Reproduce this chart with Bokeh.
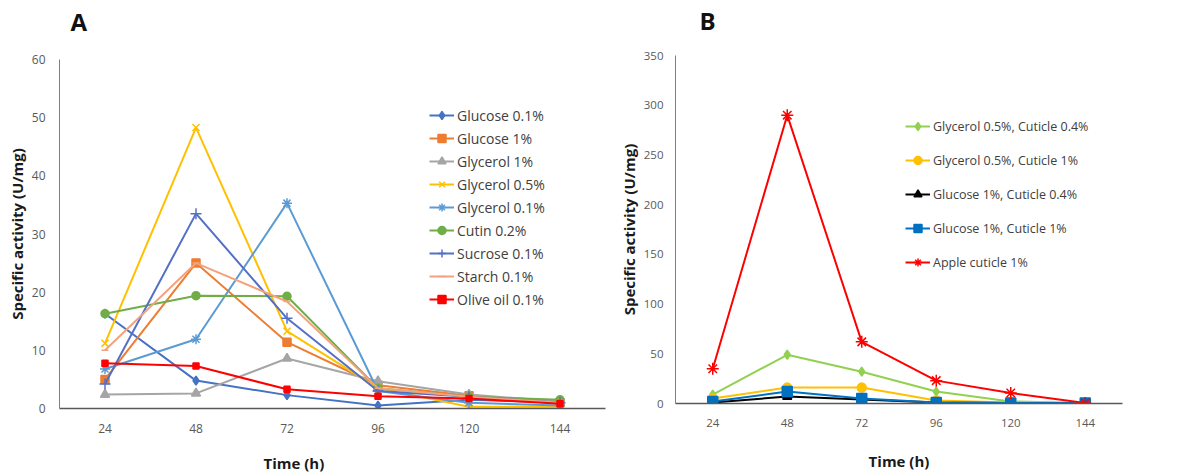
from bokeh.plotting import figure
from bokeh.layouts import row, column
from bokeh.models import Range1d, FixedTicker, Legend, LegendItem, Title
from bokeh.embed import file_html
from bokeh.resources import INLINE

# ---------------- data ----------------
time_h = [24, 48, 72, 96, 120, 144]

# Panel A
glucose_01 = [16.3, 4.8, 2.3, 0.5, 1.5, 1.0]
glucose_1 = [5.0, 25.0, 11.4, 4.0, 2.2, 1.0]
glycerol_1 = [2.4, 2.6, 8.6, 4.7, 2.4, 1.2]
glycerol_05 = [11.2, 48.3, 13.3, 3.5, 0.3, 0.3]
glycerol_01 = [6.8, 11.9, 35.3, 3.0, 1.0, 0.5]
cutin_02 = [16.3, 19.4, 19.3, 3.5, 2.0, 1.5]
sucrose_01 = [4.2, 33.5, 15.5, 3.0, 2.0, 1.0]
starch_01 = [10.0, 25.0, 18.4, 3.5, 2.0, 1.0]
olive_oil_01 = [7.8, 7.3, 3.3, 2.1, 1.7, 0.8]

# Panel B
glyc05_cut04 = [9, 49, 32, 12, 2, 0.5]
glyc05_cut1 = [5, 16, 16, 3, 1, 0.5]
gluc1_cut04 = [1, 7, 4, 1, 0.5, 0.3]
gluc1_cut1 = [2, 12, 5, 1, 0.5, 0.5]
apple_cut1 = [35, 290, 62, 23, 10.5, 0.5]

series_a = [
    ("Glucose 0.1%", glucose_01, "#4472C4", "diamond", 9),
    ("Glucose 1%", glucose_1, "#ED7D31", "square", 8),
    ("Glycerol 1%", glycerol_1, "#A5A5A5", "triangle", 9),
    ("Glycerol 0.5%", glycerol_05, "#FFC000", "x", 10),
    ("Glycerol 0.1%", glycerol_01, "#5B9BD5", "asterisk", 10),
    ("Cutin 0.2%", cutin_02, "#70AD47", "circle", 8),
    ("Sucrose 0.1%", sucrose_01, "#5470C6", "cross", 11),
    ("Starch 0.1%", starch_01, "#F4A27E", "dash", 7),
    ("Olive oil 0.1%", olive_oil_01, "#FF0000", "square", 6),
]
series_b = [
    ("Glycerol 0.5%, Cuticle 0.4%", glyc05_cut04, "#92D050", "diamond", 9),
    ("Glycerol 0.5%, Cuticle 1%", glyc05_cut1, "#FFC000", "circle", 9),
    ("Glucose 1%, Cuticle 0.4%", gluc1_cut04, "#000000", "triangle", 9),
    ("Glucose 1%, Cuticle 1%", gluc1_cut1, "#0070C0", "square", 10),
    ("Apple cuticle 1%", apple_cut1, "#FF0000", "asterisk", 12),
]

FONT = "Open Sans"
TICK_COLOR = "#595959"


def spacer(px):
    return Title(text=" ", text_font=FONT, text_font_size=px, standoff=0)


def make_panel(width, left, right, top, bottom, ymax, ystep, series,
               letter, letter_off, letter_gap, time_align, time_off,
               time_gap, leg_loc, leg_spacing, leg_font, tick_font, ystand):
    p = figure(width=width, height=475, output_backend="svg",
               toolbar_location=None,
               x_range=Range1d(12, 156), y_range=Range1d(0, ymax),
               min_border_left=left, min_border_right=right,
               min_border_top=top, min_border_bottom=bottom)
    p.outline_line_color = None
    p.grid.visible = False
    p.background_fill_color = "white"
    p.border_fill_color = "white"

    p.xaxis.ticker = FixedTicker(ticks=time_h)
    p.yaxis.ticker = FixedTicker(ticks=list(range(0, ymax + 1, ystep)))
    for ax in (p.xaxis, p.yaxis):
        ax.major_tick_line_color = None
        ax.minor_tick_line_color = None
        ax.major_tick_out = 0
        ax.major_tick_in = 0
        ax.minor_tick_out = 0
        ax.minor_tick_in = 0
        ax.major_label_text_font = FONT
        ax.major_label_text_font_size = tick_font
        ax.major_label_text_color = TICK_COLOR
    p.xaxis.axis_line_color = "#595959"
    p.xaxis.axis_line_width = 1.5
    p.yaxis.axis_line_color = "#7f7f7f"
    p.xaxis.major_label_standoff = 15
    p.yaxis.major_label_standoff = ystand

    p.yaxis.axis_label = "Specific activity (U/mg)"
    p.yaxis.axis_label_text_font = FONT
    p.yaxis.axis_label_text_font_style = "bold"
    p.yaxis.axis_label_text_font_size = "15px"
    p.yaxis.axis_label_text_color = "#1a1a1a"
    p.yaxis.axis_label_standoff = 2

    items = []
    for name, vals, color, marker, size in series:
        l = p.line(time_h, vals, line_color=color, line_width=2)
        s = p.scatter(time_h, vals, marker=marker, size=size,
                      fill_color=color, line_color=color, line_width=1.5)
        items.append(LegendItem(label=name, renderers=[l, s]))

    leg = Legend(items=items, location=leg_loc, spacing=leg_spacing,
                 glyph_width=25, glyph_height=20, label_height=20,
                 label_standoff=3, padding=4, margin=0,
                 label_text_font=FONT, label_text_font_size=leg_font,
                 label_text_color="#404040",
                 border_line_alpha=0, background_fill_alpha=0)
    p.add_layout(leg)

    p.add_layout(spacer(time_gap), "below")
    p.add_layout(Title(text="Time (h)", align=time_align, offset=time_off,
                       text_font=FONT, text_font_style="bold",
                       text_font_size="15px", text_color="#1a1a1a",
                       standoff=0), "below")
    p.add_layout(spacer(letter_gap), "above")
    p.add_layout(Title(text=letter, align="left", offset=letter_off,
                       text_font=FONT, text_font_style="bold",
                       text_font_size="24px", text_color="#111111",
                       standoff=0), "above")
    return p


pa = make_panel(615, 59, 10, 59, 67, 60, 10, series_a,
                "A", 11, "15px", "left", 204, "9px",
                (366, 95), 3, "14px", "12px", 14)
pb = make_panel(587, 59, 80, 55, 72, 350, 50, series_b,
                "B", 24, "12px", "center", 0, "12.5px",
                (226, 127), 14, "12.5px", "11.5px", 12)

out = row(column(pa), column(pb))
open("out.html", "w").write(file_html(out, INLINE))
